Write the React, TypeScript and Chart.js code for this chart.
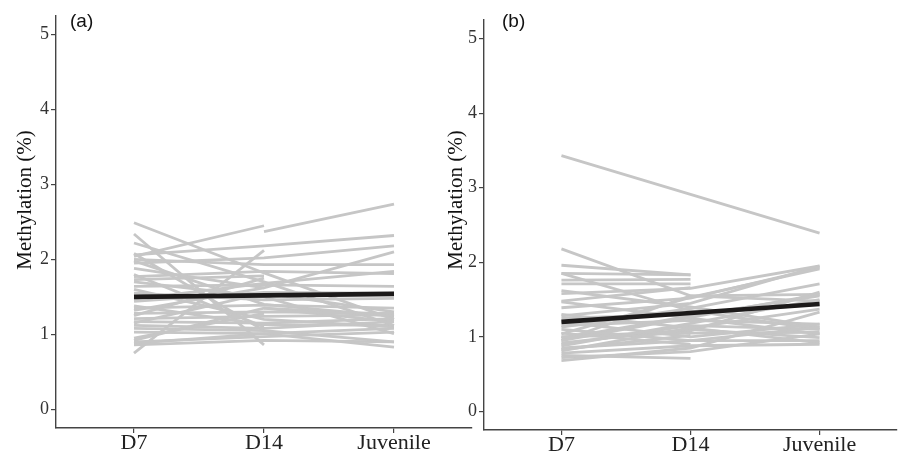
import React, { useEffect, useRef } from "react";
import { Chart, registerables } from "chart.js";
Chart.register(...registerables);

const categories = ["D7", "D14", "Juvenile"];
const yTickValues = [0, 1, 2, 3, 4, 5];
const yTitleText = "Methylation (%)";

// Panel (a): individual trajectories (null = missing time point)
const panelA_D7 = [null, 2.04, 2.06, 1.95, 0.75, 2.34, 2.49, 2.22, 1.88, 2.0, 1.77, 1.73, 1.64, 1.55, 1.44, 1.35, 1.28, 1.21, 1.17, 1.12, 1.03, 0.9, 0.86, 0.88, 1.98, 1.8, 1.25, 1.15, 0.92, 1.6, 2.08, 1.38, 1.7, 0.95, 1.47, 1.08, 1.32, null];
const panelA_D14 = [2.37, 2.45, 2.18, 2.02, 2.12, 0.86, 1.82, 1.7, 1.62, 1.93, 1.84, 1.78, 1.66, 1.46, 1.56, 1.39, 1.3, 1.24, 1.15, 1.08, 1.01, 0.97, 0.92, 1.01, 1.4, 1.1, 1.75, 1.55, 1.35, 1.2, 1.05, 1.13, 1.5, 1.28, 1.68, 1.05, 1.62, 1.35];
const panelA_Juv = [2.74, null, 2.32, 2.18, null, null, 1.2, 1.12, 2.1, 1.93, 1.81, null, 1.64, 1.48, 1.55, 1.35, 1.28, 1.26, 1.21, 1.17, 1.08, 1.03, 0.9, 0.83, 1.24, null, null, 1.3, 1.17, 1.1, null, 1.12, 1.01, null, 1.84, 0.9, null, 1.26];
const panelA_mean = [1.5, 1.52, 1.54];

// Panel (b): individual trajectories
const panelB_D7 = [3.43, 2.18, 1.96, 1.85, 1.76, 1.71, 1.58, 1.48, 1.39, 1.28, 1.13, 1.04, 0.95, 0.88, 0.81, 0.75, 0.68, 1.2, 1.1, 1.0, 0.92, 0.85, 0.78, 1.85, 1.47, 1.25, 1.15, 1.05, 0.98, 0.9, 0.72, 1.62, 1.0, 0.83, 1.3, 0.95];
const panelB_D14 = [2.91, 1.55, 1.83, 1.83, 1.77, 1.71, 1.65, 1.66, 1.52, 1.45, 1.38, 1.53, 1.26, 1.18, 1.12, 0.71, 0.85, 1.0, 0.95, 1.05, 1.1, 0.95, 0.88, 1.35, 1.25, 1.3, 1.22, 0.9, 1.28, 1.15, 0.8, 1.4, 1.08, 1.02, 1.12, 1.55];
const panelB_Juv = [2.39, 1.57, null, null, null, null, 1.95, null, 1.93, 1.95, 1.71, 1.91, 1.57, 1.5, 1.37, null, 1.33, 1.17, 1.13, 1.06, 0.99, 0.95, 0.9, 1.1, 1.04, 1.44, 1.17, null, 1.55, 1.1, 1.04, 1.13, 1.6, null, 0.92, 1.48];
const panelB_mean = [1.2, 1.32, 1.44];

type PanelCfg = {
  d7: (number | null)[];
  d14: (number | null)[];
  juv: (number | null)[];
  mean: number[];
  label: string;
  padLeft: number;
  padRight: number;
  padTop: number;
  yAxisWidth: number;
  xAxisHeight: number;
  titleX: number;
  titleY: number;
  labelX: number;
  labelY: number;
};

function buildDatasets(cfg: PanelCfg) {
  const ds: any[] = [];
  ds.push({
    data: cfg.mean.map((v, k) => ({ x: k, y: v })),
    borderColor: "#1c1a1a",
    borderWidth: 4.6,
    pointRadius: 0,
    tension: 0,
    borderCapStyle: "butt",
    order: 0,
  });
  for (let i = 0; i < cfg.d7.length; i++) {
    const vals = [cfg.d7[i], cfg.d14[i], cfg.juv[i]];
    const pts = vals
      .map((v, k) => (v === null ? null : { x: k, y: v }))
      .filter((p) => p !== null);
    ds.push({
      data: pts,
      borderColor: "#c6c6c6",
      borderWidth: 2.8,
      pointRadius: 0,
      tension: 0,
      borderCapStyle: "butt",
      order: 1,
    });
  }
  return ds;
}

function Panel({ cfg }: { cfg: PanelCfg }) {
  const ref = useRef<HTMLCanvasElement | null>(null);
  useEffect(() => {
    if (!ref.current) return;
    const textPlugin = {
      id: "panelText",
      afterDraw(chart: any) {
        const ctx = chart.ctx;
        ctx.save();
        ctx.fillStyle = "#111";
        ctx.font = "21px 'Liberation Serif', 'Times New Roman', serif";
        ctx.textAlign = "center";
        ctx.textBaseline = "middle";
        ctx.translate(cfg.titleX, cfg.titleY);
        ctx.rotate(-Math.PI / 2);
        ctx.fillText(yTitleText, 0, 0);
        ctx.restore();
        ctx.save();
        ctx.fillStyle = "#111";
        ctx.font = "19px 'Liberation Sans', Arial, sans-serif";
        ctx.textAlign = "left";
        ctx.textBaseline = "middle";
        ctx.fillText(cfg.label, cfg.labelX, cfg.labelY);
        ctx.restore();
      },
    };
    const chart = new Chart(ref.current, {
      type: "line",
      data: { datasets: buildDatasets(cfg) },
      options: {
        animation: false,
        responsive: false,
        maintainAspectRatio: false,
        events: [],
        layout: {
          padding: { left: cfg.padLeft, right: cfg.padRight, top: cfg.padTop, bottom: 0 },
        },
        plugins: { legend: { display: false }, tooltip: { enabled: false }, title: { display: false } },
        scales: {
          x: {
            type: "linear",
            min: -0.6,
            max: 2.6,
            afterBuildTicks: (s: any) => {
              s.ticks = categories.map((_, i) => ({ value: i }));
            },
            afterFit: (s: any) => {
              s.height = cfg.xAxisHeight;
            },
            ticks: {
              callback: (v: any) => categories[v as number] ?? "",
              color: "#222",
              font: { family: "'Liberation Serif', 'Times New Roman', serif", size: 22 },
              padding: -3,
              maxRotation: 0,
              autoSkip: false,
            },
            grid: { display: true, drawOnChartArea: false, drawTicks: true, tickLength: 5, color: "#444", lineWidth: 1.2 },
            border: { display: true, color: "#444", width: 1.4 },
          },
          y: {
            type: "linear",
            min: -0.25,
            max: 5.25,
            afterBuildTicks: (s: any) => {
              s.ticks = yTickValues.map((v) => ({ value: v }));
            },
            afterFit: (s: any) => {
              s.width = cfg.yAxisWidth;
            },
            ticks: {
              color: "#333",
              font: { family: "'Liberation Serif', 'Times New Roman', serif", size: 18 },
              padding: 2,
            },
            grid: { display: true, drawOnChartArea: false, drawTicks: true, tickLength: 5, color: "#444", lineWidth: 1.2 },
            border: { display: true, color: "#444", width: 1.4 },
          },
        },
      } as any,
      plugins: [textPlugin],
    });
    return () => chart.destroy();
  }, [cfg]);
  return (
    <canvas
      ref={ref}
      width={899}
      height={456}
      style={{ position: "absolute", left: 0, top: 0, width: 899, height: 456 }}
    />
  );
}

const cfgA: PanelCfg = {
  d7: panelA_D7,
  d14: panelA_D14,
  juv: panelA_Juv,
  mean: panelA_mean,
  label: "(a)",
  padLeft: 0,
  padRight: 427,
  padTop: 16,
  yAxisWidth: 56,
  xAxisHeight: 28,
  titleX: 25,
  titleY: 200,
  labelX: 70,
  labelY: 22,
};

const cfgB: PanelCfg = {
  d7: panelB_D7,
  d14: panelB_D14,
  juv: panelB_Juv,
  mean: panelB_mean,
  label: "(b)",
  padLeft: 440,
  padRight: 2,
  padTop: 20,
  yAxisWidth: 44,
  xAxisHeight: 26,
  titleX: 456,
  titleY: 200,
  labelX: 502,
  labelY: 22,
};

export default function App() {
  return (
    <div style={{ position: "fixed", left: 0, top: 0, width: 899, height: 456, background: "#fff" }}>
      <Panel cfg={cfgA} />
      <Panel cfg={cfgB} />
    </div>
  );
}
